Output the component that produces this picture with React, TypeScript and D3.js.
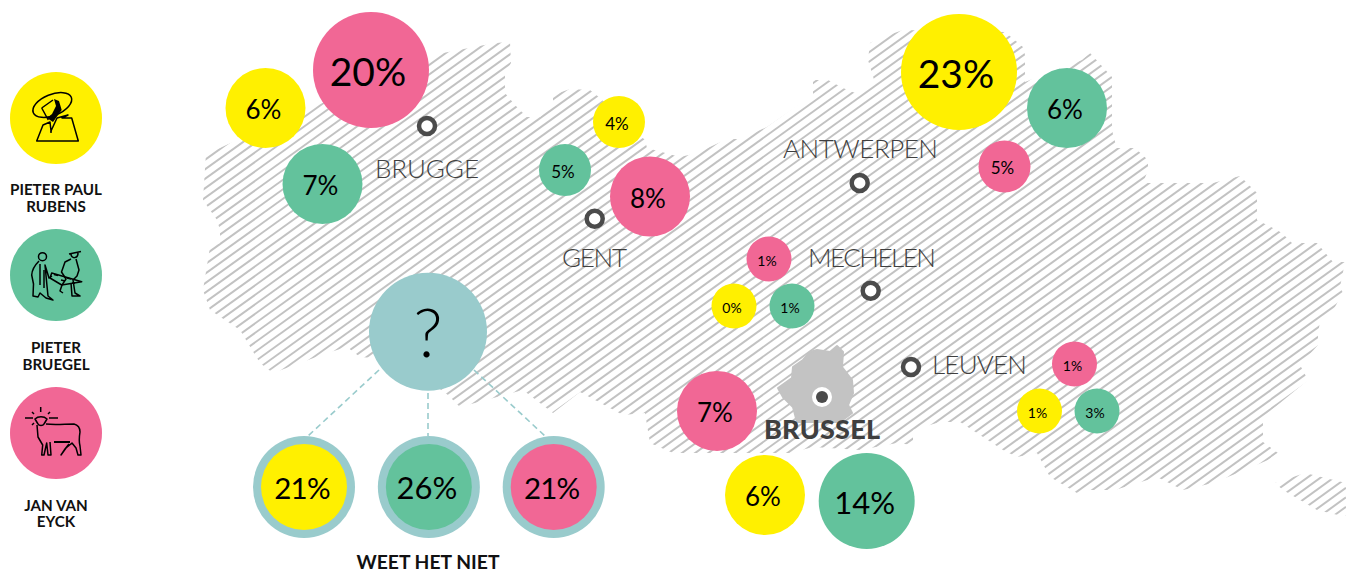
import React, { useEffect, useRef } from "react";
import * as d3 from "d3";

// values per city, in percent
const cities = ["BRUGGE", "GENT", "ANTWERPEN", "MECHELEN", "LEUVEN", "BRUSSEL"];
const rubensValues = [6, 4, 23, 0, 1, 6];
const bruegelValues = [7, 5, 6, 1, 3, 14];
const eyckValues = [20, 8, 5, 1, 1, 7];
const dontKnowValues = [21, 26, 21];
const painters = [["PIETER PAUL", "RUBENS"], ["PIETER", "BRUEGEL"], ["JAN VAN", "EYCK"]];
const dontKnowLabel = "WEET HET NIET";

// layout, not data
const YELLOW = "#fff000";
const GREEN = "#63c29c";
const PINK = "#f16795";
const TEAL = "#99cbcc";
const DARK = "#4b4b4b";
const painterColors = [YELLOW, GREEN, PINK];
const rubensSpots = [[265.5, 108], [619, 122], [959, 72], [734, 306], [1039.5, 411], [765, 495]];
const bruegelSpots = [[322.5, 184], [565, 170], [1067, 108], [792, 306], [1097, 411], [866.7, 501]];
const eyckSpots = [[371, 70], [650, 196.5], [1004.5, 166.5], [769, 259], [1074.5, 364], [717, 411]];
const citySpots = [[427, 126], [594.7, 218.7], [859.7, 183], [870.7, 290.7], [911, 367], [822, 397]];
const labelSpots = [[427, 178], [594.5, 267], [860.5, 158], [872, 267], [979.5, 374], [822, 439]];
const labelWidths = [104, 65, 155, 128, 95, 116];

const belgium = [
  [206, 153], [220, 148], [300, 110], [380, 85], [443, 53], [495, 43], [510, 42], [511, 63], [505, 73], [505, 93],
  [515, 105], [527, 117], [540, 117], [553, 105], [553, 95], [570, 89], [590, 90], [600, 98], [645, 140], [647, 148],
  [680, 157], [697, 153], [727, 139], [740, 139], [767, 127], [813, 95], [813, 80], [828, 80], [843, 88], [860, 95],
  [875, 83], [868, 60], [870, 43], [883, 37], [903, 30], [1005, 32], [1023, 47], [1025, 55], [1025, 82], [1082, 60],
  [1090, 53], [1112, 77], [1112, 92], [1112, 127], [1113, 135], [1117, 148], [1135, 148], [1148, 160], [1148, 170],
  [1143, 183], [1213, 183], [1240, 176], [1257, 193], [1257, 220], [1273, 228], [1282, 233], [1292, 243], [1317, 243],
  [1333, 262], [1345, 262], [1340, 287], [1343, 293], [1332, 312], [1320, 322], [1318, 333], [1318, 345], [1300, 365],
  [1308, 380], [1263, 417], [1263, 442], [1278, 453], [1268, 460], [1240, 472], [1213, 483], [1183, 490], [1157, 477],
  [1115, 490], [1090, 490], [1077, 493], [1050, 477], [1037, 453], [1017, 457], [1003, 450], [960, 422], [940, 422],
  [913, 430], [913, 445], [897, 443], [860, 450], [813, 447], [790, 453], [673, 453], [650, 443], [645, 413], [623, 415],
  [580, 392], [553, 413], [523, 390], [460, 407], [448, 395], [400, 360], [360, 357], [347, 347], [327, 353], [273, 373],
  [260, 363], [240, 330], [210, 310], [203, 290], [210, 247], [220, 243], [220, 230], [217, 220], [203, 200],
];
const voeren = [[1275, 483], [1305, 473], [1346, 483], [1346, 516], [1338, 515], [1317, 510], [1283, 490]];
const brussels = [
  [778, 388], [792, 378], [793, 367], [803, 360], [810, 352], [817, 350], [830, 352], [837, 346], [843, 352], [842, 367],
  [852, 380], [853, 393], [848, 405], [852, 413], [840, 422], [797, 422], [793, 407], [783, 397],
];

const radius = d3.scaleThreshold<number, number>().domain([4, 6, 10, 20]).range([22.5, 26, 40, 48, 58]);
const fontSize = d3.scaleThreshold<number, number>().domain([4, 6, 10, 20]).range([14, 17, 26, 31, 39]);

const rubensIcon = [
  "M33.3 112.7A20.5 10.5 -22 1 1 71.3 97.3A20.5 10.5 -22 1 1 33.3 112.7Z",
  "M41.7 108L53 100M41.7 108L48.3 120",
  "M36.7 141L43 125L50 122L51 131L57 118L68 115L62 118L71.7 118L78.3 141Z",
  "M51 131L51 133",
];
const rubensFill = "M54 99L59 101L61.7 110L53 122L47 118L52 114L56 106Z";
const bruegelIcon = [
  "M38.5 256.7A4 4 0 1 1 46.5 256.7A4 4 0 1 1 38.5 256.7Z",
  "M39 261C35 265 32 270 31.7 275L33.5 284L33 296L38 297L40 293L46 298L53 300L48 296L47 286L45 265L49 278L52 276",
  "M40 264L40 285M44 270L44 288",
  "M69 254L81 251.5M71 254C71 259 78 259 78 253",
  "M71 259L65 262L61.5 272L66 279L62 285L60 291L63 293",
  "M76 259L79 270L77 276L73 280L75 293L80 296L72 296L71 283",
  "M51.7 273L81.7 281.7L61.7 285L50 278Z",
  "M54 274.5L58 275.5M61 280L65 281M67 278L71 279M72 283L75 283",
];
const eyckIcon = [
  "M35 419C38 416 44 416 47 419L44 424C43 426 39 426 38 424Z",
  "M37 425L38 437L42.7 445L41.7 455L44 455L46.7 443L48 455L51 455L50 442",
  "M46 424C55 425 65 424 74 424C78 425 80 428 80 432C79 438 79 442 80 446L81 455L78 455L76 448L72 443L66 448L61 455L65 449L69 444",
  "M40.7 407L40.7 412M25 418L33 418M49 418L58 418M32 412L34 414M50 412L48 414M32 425L34 423",
];
const iconSets = [rubensIcon, bruegelIcon, eyckIcon];

export default function App() {
  const ref = useRef<SVGSVGElement>(null);

  useEffect(() => {
    const svg = d3.select(ref.current);
    svg.selectAll("*").remove();

    const line = d3.line().curve(d3.curveLinearClosed);
    const clip = svg.append("defs").append("clipPath").attr("id", "land");
    clip.append("path").attr("d", line(belgium as any));
    clip.append("path").attr("d", line(voeren as any));

    // map hatching: lines y = c - slope * x
    const slope = 0.72;
    const hatchStep = 9.5;
    const hatch = d3.range(1153 - 120 * hatchStep, 1153 + 60 * hatchStep, hatchStep);
    svg.append("g").attr("clip-path", "url(#land)")
      .selectAll("line").data(hatch).enter().append("line")
      .attr("x1", 190).attr("y1", (c) => c - slope * 190)
      .attr("x2", 1346).attr("y2", (c) => c - slope * 1346)
      .attr("stroke", "#c2c2c2").attr("stroke-width", 2);
    svg.append("path").attr("d", line(brussels as any)).attr("fill", "#c3c3c3").attr("stroke", "#c3c3c3").attr("stroke-width", 2).attr("stroke-linejoin", "round");

    // city markers and names
    citySpots.forEach(([x, y], i) => {
      if (cities[i] === "BRUSSEL") {
        svg.append("circle").attr("cx", x).attr("cy", y).attr("r", 10).attr("fill", "#fff");
        svg.append("circle").attr("cx", x).attr("cy", y).attr("r", 6).attr("fill", DARK);
      } else {
        svg.append("circle").attr("cx", x).attr("cy", y).attr("r", 8).attr("fill", "#fff").attr("stroke", DARK).attr("stroke-width", 4.5);
      }
    });
    svg.selectAll("text.city").data(cities).enter().append("text")
      .attr("class", "city")
      .attr("x", (_, i) => labelSpots[i][0])
      .attr("y", (_, i) => labelSpots[i][1])
      .attr("text-anchor", "middle")
      .attr("fill", "#3f3f3f")
      .attr("font-family", "Lato")
      .attr("font-weight", (d) => (d === "BRUSSEL" ? 900 : 300))
      .attr("font-size", (d) => (d === "BRUSSEL" ? 27 : 26))
      .attr("textLength", (_, i) => labelWidths[i])
      .text((d) => d);

    // bubbles per painter
    const bubble = (x: number, y: number, value: number, color: string) => {
      svg.append("circle").attr("cx", x).attr("cy", y).attr("r", radius(value)).attr("fill", color);
      svg.append("text")
        .attr("x", x - (value >= 20 ? 3 : 2))
        .attr("y", y + fontSize(value) * 0.35 + 2)
        .attr("text-anchor", "middle")
        .attr("font-family", "Lato")
        .attr("font-size", fontSize(value))
        .attr("fill", "#000")
        .text(value + "%");
    };
    [rubensValues, bruegelValues, eyckValues].forEach((values, p) => {
      const spots = [rubensSpots, bruegelSpots, eyckSpots][p];
      values.forEach((v, i) => bubble(spots[i][0], spots[i][1], v, painterColors[p]));
    });

    // the "don't know" group
    const ringX = d3.scalePoint<number>().domain([0, 1, 2]).range([304, 553.7]);
    const dashFrom = [[379, 370], [428, 393], [474, 370]];
    const dashTo = [[308, 436], [428, 436], [545, 436]];
    dashFrom.forEach((from, i) => {
      svg.append("line")
        .attr("x1", from[0]).attr("y1", from[1])
        .attr("x2", dashTo[i][0]).attr("y2", dashTo[i][1])
        .attr("stroke", TEAL).attr("stroke-width", 1.6).attr("stroke-dasharray", "6 4");
    });
    svg.append("circle").attr("cx", 428).attr("cy", 331.7).attr("r", 59).attr("fill", TEAL);
    svg.append("text").attr("x", 428).attr("y", 357).attr("text-anchor", "middle")
      .attr("font-family", "Lato").attr("font-weight", 300).attr("font-size", 67).attr("fill", "#000").text("?");
    dontKnowValues.forEach((v, i) => {
      const x = ringX(i) as number;
      svg.append("circle").attr("cx", x).attr("cy", 487).attr("r", 51).attr("fill", TEAL);
      svg.append("circle").attr("cx", x).attr("cy", 487).attr("r", 43).attr("fill", painterColors[i]);
      svg.append("text").attr("x", x - 2).attr("y", 499).attr("text-anchor", "middle")
        .attr("font-family", "Lato").attr("font-size", v === 21 ? 29.5 : 31).attr("letter-spacing", v === 21 ? -0.8 : 0).attr("fill", "#000").text(v + "%");
    });
    svg.append("text").attr("x", 428).attr("y", 569).attr("text-anchor", "middle")
      .attr("font-family", "Lato").attr("font-weight", 700).attr("font-size", 19.3).attr("fill", "#111").text(dontKnowLabel);

    // legend
    const legendY = [118, 275, 433];
    const legendText = [195, 353, 511];
    const legendGap = [17, 16.5, 16];
    painters.forEach((name, i) => {
      svg.append("circle").attr("cx", 56).attr("cy", legendY[i]).attr("r", 46).attr("fill", painterColors[i]);
      iconSets[i].forEach((d) => {
        svg.append("path").attr("d", d).attr("fill", "none").attr("stroke", "#000").attr("stroke-width", 1.5).attr("stroke-linejoin", "round");
      });
      name.forEach((row, r) => {
        svg.append("text").attr("x", 56).attr("y", legendText[i] + r * legendGap[i]).attr("text-anchor", "middle")
          .attr("font-family", "Lato").attr("font-weight", 700).attr("font-size", 15.2).attr("fill", "#111").text(row);
      });
    });
    // solid bits of the icons
    svg.append("path").attr("d", rubensFill).attr("fill", "#000");
    svg.append("path").attr("d", "M54 442L70 442").attr("stroke", "#000").attr("stroke-width", 2);
  }, []);

  return <svg ref={ref} width={1346} height={573} style={{ position: "absolute", left: 0, top: 0 }} />;
}
